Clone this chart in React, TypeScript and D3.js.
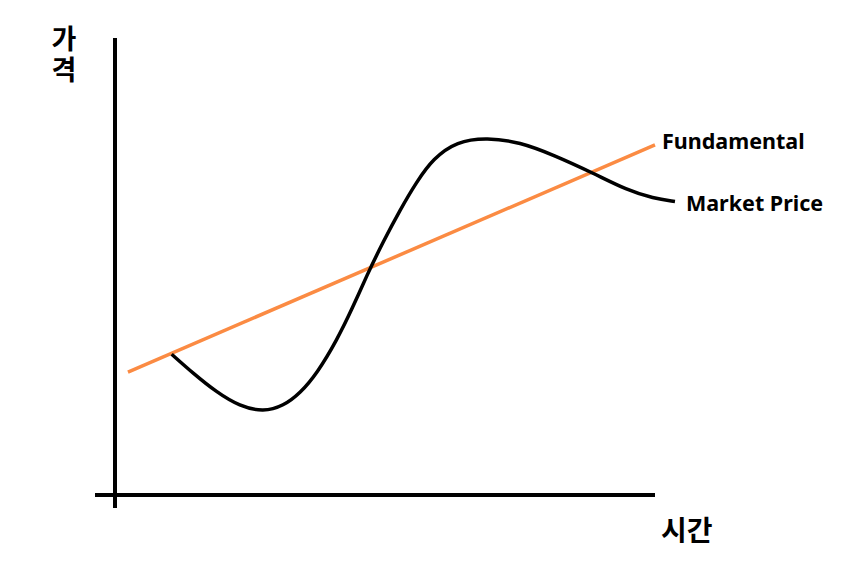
import React from "react";
import * as d3 from "d3";

// values, in 0-100 time / price units
const fundamentalTime = [2.4, 100];
const fundamentalPrice = [26.9, 76.6];

const marketTime = [10.5, 14.5, 18.8, 23.1, 27.5, 31.2, 34.3, 37.4, 41.1, 44.1, 46.6, 49.7, 52.8, 55.9, 58.9, 63.3, 68.9, 75.0, 81.2, 88.6, 94.8, 99.7, 103.7];
const marketPrice = [30.8, 26.6, 22.5, 19.4, 18.2, 19.5, 22.3, 26.6, 33.9, 41.2, 48.0, 55.5, 62.4, 68.6, 73.6, 77.4, 78.2, 77.2, 74.4, 70.4, 66.7, 64.9, 64.2];

const yLabel = "가격";
const xLabel = "시간";
const seriesLabels = ["Fundamental", "Market Price"];

const WIDTH = 855;
const HEIGHT = 567;
const ORANGE = "#FB8B43";

export default function App() {
	const x = d3.scaleLinear().domain([0, 100]).range([115, 655]);
	const y = d3.scaleLinear().domain([0, 100]).range([495, 38]);

	const line = d3
		.line<[number, number]>()
		.x((d) => x(d[0]))
		.y((d) => y(d[1]));
	// B-spline smooths out small reading errors
	const smooth = d3
		.line<[number, number]>()
		.x((d) => x(d[0]))
		.y((d) => y(d[1]))
		.curve(d3.curveBasis);

	const fundamental = fundamentalTime.map((t, i) => [t, fundamentalPrice[i]] as [number, number]);
	const market = marketTime.map((t, i) => [t, marketPrice[i]] as [number, number]);

	const font = "'Noto Sans CJK KR', 'Noto Sans', sans-serif";
	const lastF = fundamental[fundamental.length - 1];
	const lastM = market[market.length - 1];

	return (
		<svg
			width={WIDTH}
			height={HEIGHT}
			style={{ position: "absolute", left: 0, top: 0, background: "#fff" }}
			fontFamily={font}
		>
			{/* axes */}
			<line x1={x(0)} x2={x(0)} y1={y(100)} y2={y(0) + 13} stroke="#000" strokeWidth={4} />
			<line x1={x(0) - 20} x2={x(100)} y1={y(0)} y2={y(0)} stroke="#000" strokeWidth={4} />

			{/* series */}
			<path d={line(fundamental) ?? ""} fill="none" stroke={ORANGE} strokeWidth={3.5} />
			<path d={smooth(market) ?? ""} fill="none" stroke="#000" strokeWidth={3.5} />

			{/* labels */}
			<text
				x={64}
				y={25}
				fontSize={27}
				fontWeight="bold"
				letterSpacing={4}
				style={{ writingMode: "vertical-rl", textOrientation: "upright" }}
			>
				{yLabel}
			</text>
			<text x={661} y={541} fontSize={28} fontWeight="bold">
				{xLabel}
			</text>
			<text x={x(lastF[0]) + 7} y={y(lastF[1]) + 4} fontSize={21.5} fontWeight="bold" fontFamily="'Noto Sans', sans-serif">
				{seriesLabels[0]}
			</text>
			<text x={x(lastM[0]) + 11} y={y(lastM[1]) + 9} fontSize={21.5} fontWeight="bold" fontFamily="'Noto Sans', sans-serif">
				{seriesLabels[1]}
			</text>
		</svg>
	);
}
